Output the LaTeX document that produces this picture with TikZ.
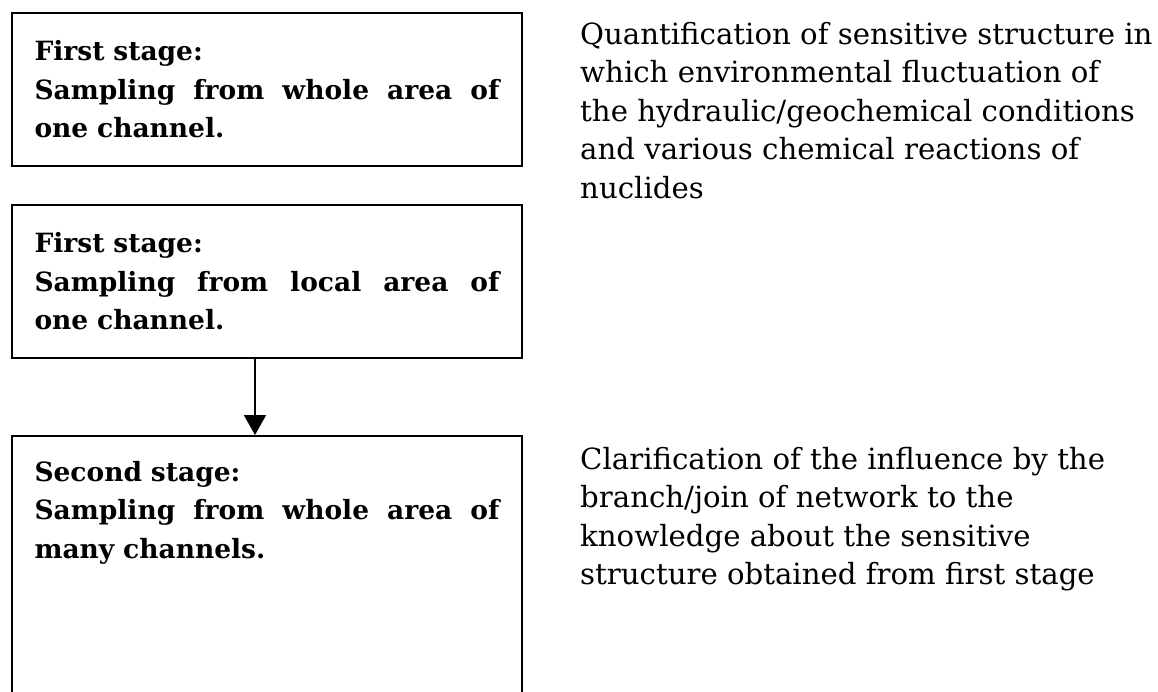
\documentclass[tikz,border=0pt]{standalone}
\usepackage{fontspec}
\setmainfont{DejaVu Serif}
\usetikzlibrary{arrows.meta, positioning}

\begin{document}
\begin{tikzpicture}[
    x=1pt, y=1pt,
    node distance=37pt and 57pt,
    stagebox/.style={rectangle, draw, line width=2pt, minimum width=510pt, minimum height=153pt, text width=465pt, align=left, font=\bfseries\fontsize{26.5}{38.5}\selectfont},
    note/.style={align=left, inner sep=0pt, font=\fontsize{29.2}{38.5}\selectfont},
    arrow/.style={-{Triangle[width=22pt, length=20pt]}, line width=1.8pt}
]
\useasboundingbox (0,0) rectangle (1158,-692);

\node[stagebox, anchor=north west] (whole) at (11,-12) {First stage:\\ \makebox[465pt][l]{Sampling\hfill from\hfill whole\hfill area\hfill of}\\ one channel.};
\node[stagebox, below=37pt of whole.south west, anchor=north west] (local) {First stage:\\ \makebox[465pt][l]{Sampling\hfill from\hfill local\hfill area\hfill of}\\ one channel.};
\node[stagebox, minimum height=266pt, below=76pt of local.south west, anchor=north west] (many) {};
\node[stagebox, draw=none, anchor=north west] (manytext) at (many.north west) {Second stage:\\ \makebox[465pt][l]{Sampling\hfill from\hfill whole\hfill area\hfill of}\\ many channels.};

\node[note, below right=10pt and 57pt of whole.north east] (quant) {Quantification of sensitive structure in\\ which environmental fluctuation of\\ the hydraulic/geochemical conditions\\ and various chemical reactions of\\ nuclides};
\node[note, below right=12pt and 57pt of many.north east] (clar) {Clarification of the influence by the\\ branch/join of network to the\\ knowledge about the sensitive\\ structure obtained from first stage};

\draw[arrow] ([xshift=-12pt]local.south) -- ([xshift=-12pt]local.south |- many.north);

\end{tikzpicture}
\end{document}
